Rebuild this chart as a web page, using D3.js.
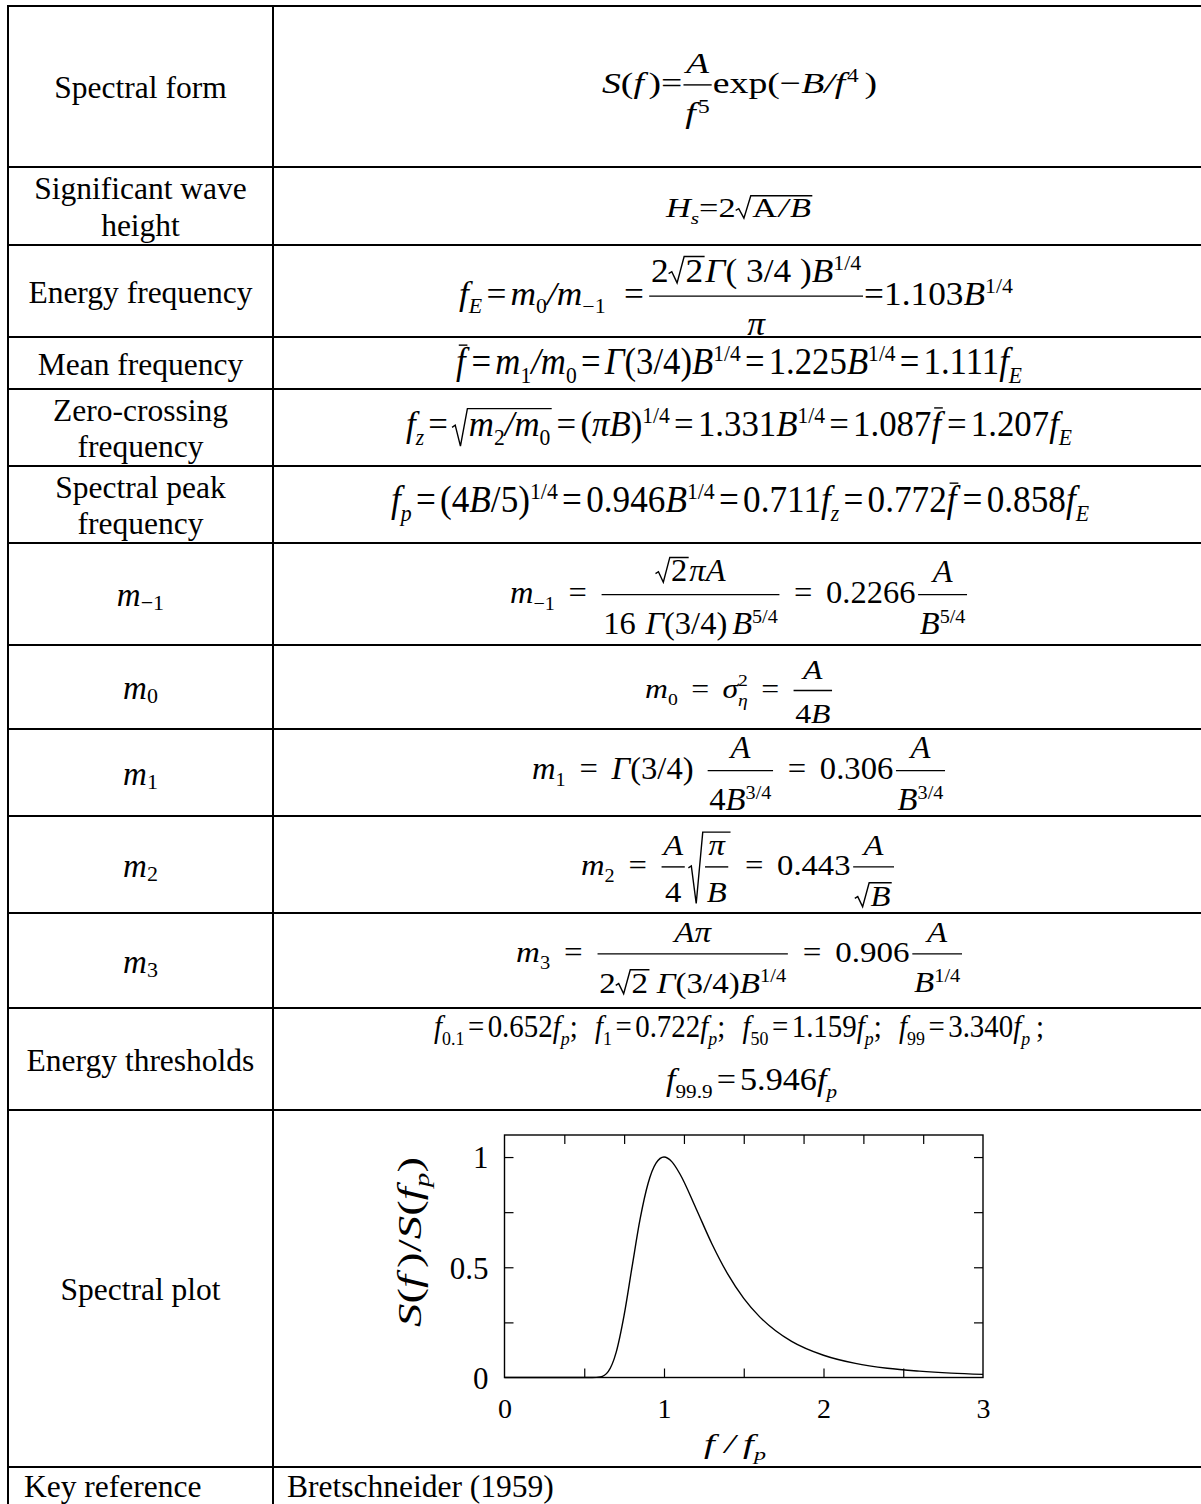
<!DOCTYPE html>
<html>
<head>
<meta charset="utf-8">
<script src="https://cdn.jsdelivr.net/npm/d3@7"></script>
<style>
  body { margin: 0; background: #fff; }
</style>
</head>
<body>
<div id="chart"></div>
<script>
// ---------- data ----------
const rowLabels = [
    ["Spectral form"], ["Significant wave", "height"], ["Energy frequency"], ["Mean frequency"],
    ["Zero-crossing", "frequency"], ["Spectral peak", "frequency"],
    { m: "−1" }, { m: "0" }, { m: "1" }, { m: "2" }, { m: "3" },
    ["Energy thresholds"], ["Spectral plot"]
];
const keyLabel = "Key reference";
const keyValue = "Bretschneider (1959)";

// formula tokens: "text" upright, I() italic, sub/sup, frac, sqrt, bar
const I = s => ({ i: s });
const sub = (...a) => ({ sub: a });
const sup = (...a) => ({ sup: a });
const frac = (n, d) => ({ frac: [n, d] });
const rt = (...a) => ({ sqrt: a });
const bar = (...a) => ({ bar: a });
const sp = e => ({ sp: e });
const ss = (a, b) => ({ ss: [a, b] });
const eq = [sp(.12), "=", sp(.12)];
const eqW = [sp(.42), "=", sp(.42)];

const formulas = [
    [[I("S"), "(", I("f"), sp(.12), ")", "=", frac([I("A")], [I("f"), sp(.06), sup("5")]), "exp(−", I("B/f"), sp(.05), sup("4"), sp(.15), ")"]],
    [[I("H"), sub(I("s")), "=2", rt("A", sp(.05), I("/"), sp(.05), I("B"))]],
    [[I("f"), sub(I("E")), ...eq, I("m"), sub("0"), I("/m"), sub("−1"), sp(.4), ...eq,
      frac(["2", rt("2"), I("Γ"), "( 3/4 )", I("B"), sup("1/4")], [I("π")]), "=", "1.103", I("B"), sup("1/4")]],
    [[bar(I("f")), ...eq, I("m"), sub("1"), I("/m"), sub("0"), ...eq, I("Γ"), "(3/4)", I("B"), sup("1/4"),
      ...eq, "1.225", I("B"), sup("1/4"), ...eq, "1.111", I("f"), sub(I("E"))]],
    [[I("f"), sub(I("z")), ...eq, rt(I("m"), sub("2"), I("/m"), sub("0")), ...eq, "(", I("πB"), ")", sup("1/4"),
      ...eq, "1.331", I("B"), sup("1/4"), ...eq, "1.087", bar(I("f")), ...eq, "1.207", I("f"), sub(I("E"))]],
    [[I("f"), sub(I("p")), ...eq, "(4", I("B"), "/5)", sup("1/4"), ...eq, "0.946", I("B"), sup("1/4"),
      ...eq, "0.711", I("f"), sub(I("z")), ...eq, "0.772", bar(I("f")), ...eq, "0.858", I("f"), sub(I("E"))]],
    [[I("m"), sub("−1"), ...eqW, frac([rt("2"), I("πA")], ["16", sp(.3), I("Γ"), "(3/4)", sp(.15), I("B"), sup("5/4")]),
      ...eqW, "0.2266", sp(.05), frac([I("A")], [I("B"), sup("5/4")])]],
    [[I("m"), sub("0"), ...eqW, I("σ"), ss(["2"], [I("η")]), ...eqW, frac([I("A")], ["4", I("B")])]],
    [[I("m"), sub("1"), ...eqW, I("Γ"), "(3/4)", sp(.4), frac([I("A")], ["4", I("B"), sup("3/4")]),
      ...eqW, "0.306", sp(.05), frac([I("A")], [I("B"), sup("3/4")])]],
    [[I("m"), sub("2"), ...eqW, frac([I("A")], ["4"]), sp(.08), rt(frac([I("π")], [I("B")])), ...eqW, "0.443", sp(.05), frac([I("A")], [rt(I("B"))])]],
    [[I("m"), sub("3"), ...eqW, frac([I("A"), I("π")], ["2", rt("2"), sp(.2), I("Γ"), "(3/4)", I("B"), sup("1/4")]),
      ...eqW, "0.906", sp(.05), frac([I("A")], [I("B"), sup("1/4")])]],
    [[I("f"), sub("0.1"), ...eq, "0.652", I("f"), sub(I("p")), ";", sp(.6), I("f"), sub("1"), ...eq, "0.722", I("f"), sub(I("p")), ";", sp(.6),
      I("f"), sub("50"), ...eq, "1.159", I("f"), sub(I("p")), ";", sp(.6), I("f"), sub("99"), ...eq, "3.340", I("f"), sub(I("p")), sp(.2), ";"],
     [I("f"), sub("99.9"), ...eq, "5.946", I("f"), sub(I("p"))]]
];

// spectral plot
const fRatio = [0, 0.55, 0.6, 0.65, 0.7, 0.75, 0.8, 0.85, 0.9, 0.95, 1.0, 1.05, 1.1, 1.2, 1.3, 1.4, 1.5, 1.6, 1.7, 1.8, 2.0, 2.2, 2.4, 2.6, 2.8, 3.0];
const sRatio = [0, 0, 0.003, 0.027, 0.114, 0.283, 0.503, 0.718, 0.880, 0.972, 1.0, 0.978, 0.923, 0.768, 0.607, 0.469, 0.359, 0.275, 0.212, 0.164, 0.101, 0.064, 0.042, 0.029, 0.020, 0.014];
const xTickLabels = [0, 1, 2, 3];
const yTickLabels = [0, 0.5, 1];
const bottomTicks = [0.5, 1, 1.5, 2, 2.5];
const topTicks = [0.375, 0.75, 1.125, 1.5, 1.875, 2.25, 2.625];
const sideTicks = [0.25, 0.5, 0.75, 1];
const yLabel = [I("S"), "(", I("f"), sp(.15), ")/", I("S"), "(", I("f"), sub(I("p")), ")"];
const xLabel = [I("f"), sp(.25), I("/"), sp(.2), I("f"), sub(I("p"))];

// ---------- layout ----------
const W = 1201, H = 1504;
const FONT = "'Liberation Serif','Times New Roman',serif";
const rowEdges = [6, 167, 245, 337, 389, 466, 543, 645, 729, 816, 913, 1008, 1110, 1467, 1540];
const colX = [8, 273];
// [left, right, baseline, font size] per formula line
const boxes = [
    [[602, 877, 93, 30]],
    [[666, 813, 217, 28]],
    [[459, 1013, 305, 33]],
    [[456, 1022, 374, 37]],
    [[406, 1072, 436, 36]],
    [[391, 1089, 512, 37]],
    [[510, 968, 603, 31]],
    [[645, 833, 698, 28]],
    [[532, 946, 779, 31]],
    [[581, 895, 875, 30]],
    [[516, 963, 962, 30]],
    [[434, 1044, 1037, 32], [666, 837, 1090, 32]]
];

const svg = d3.select("#chart").append("svg")
    .attr("width", W).attr("height", H)
    .style("background", "#fff");

function txt(g, s, size, italic) {
    const t = g.append("text")
        .attr("font-family", FONT)
        .attr("font-size", size)
        .attr("fill", "#000")
        .text(s);
    if (italic) t.attr("font-style", "italic");
    return t.node().getComputedTextLength();
}

function stroke(sel, w) {
    return sel.attr("stroke", "#000").attr("stroke-width", w).attr("fill", "none")
        .attr("vector-effect", "non-scaling-stroke");
}

function lay(g, items, s) {
    let x = 0, asc = 0.68 * s, desc = 0;
    for (const it of items) {
        const pg = g.append("g").attr("transform", `translate(${x},0)`);
        const m = piece(pg, it, s);
        x += m.w;
        asc = Math.max(asc, m.asc);
        desc = Math.max(desc, m.desc);
    }
    return { w: x, asc, desc };
}

function piece(g, it, s) {
    if (typeof it === "string") return { w: txt(g, it, s, false), asc: 0.68 * s, desc: 0 };
    if (it.i !== undefined) return { w: txt(g, it.i, s, true), asc: 0.68 * s, desc: 0 };
    if (it.sp !== undefined) return { w: it.sp * s, asc: 0, desc: 0 };
    if (it.sub) {
        const ig = g.append("g").attr("transform", `translate(0,${0.24 * s})`);
        const m = lay(ig, it.sub, 0.62 * s);
        return { w: m.w, asc: m.asc - 0.24 * s, desc: m.desc + 0.24 * s };
    }
    if (it.sup) {
        const ig = g.append("g").attr("transform", `translate(0,${-0.36 * s})`);
        const m = lay(ig, it.sup, 0.62 * s);
        return { w: m.w, asc: m.asc + 0.36 * s, desc: 0 };
    }
    if (it.ss) {
        const a = g.append("g").attr("transform", `translate(0,${-0.42 * s})`);
        const ma = lay(a, it.ss[0], 0.62 * s);
        const b = g.append("g").attr("transform", `translate(0,${0.3 * s})`);
        const mb = lay(b, it.ss[1], 0.62 * s);
        return { w: Math.max(ma.w, mb.w), asc: ma.asc + 0.42 * s, desc: 0.45 * s };
    }
    if (it.frac) {
        const ng = g.append("g"), dg = g.append("g");
        const mn = lay(ng, it.frac[0], s), md = lay(dg, it.frac[1], s);
        const w = Math.max(mn.w, md.w) + 0.16 * s;
        const axis = -0.27 * s;
        const nb = axis - 0.4 * s - mn.desc;
        const db = axis + 0.5 * s + md.asc;
        ng.attr("transform", `translate(${(w - mn.w) / 2},${nb})`);
        dg.attr("transform", `translate(${(w - md.w) / 2},${db})`);
        stroke(g.append("line"), 1.4)
            .attr("x1", 0.03 * s).attr("x2", w - 0.03 * s)
            .attr("y1", axis).attr("y2", axis);
        return { w, asc: -nb + mn.asc, desc: db + md.desc };
    }
    if (it.sqrt) {
        const r = 0.48 * s;
        const bg = g.append("g").attr("transform", `translate(${r},0)`);
        const m = lay(bg, it.sqrt, s);
        const top = -(m.asc + 0.08 * s), bottom = m.desc + 0.04 * s;
        stroke(g.append("path"), 1.4)
            .attr("d", `M0,${-0.24 * s}L${0.09 * s},${-0.3 * s}L${0.24 * s},${bottom}L${0.44 * s},${top}H${r + m.w + 0.04 * s}`);
        return { w: r + m.w + 0.06 * s, asc: -top + 0.03 * s, desc: bottom };
    }
    if (it.bar) {
        const m = lay(g, it.bar, s);
        const yb = -(m.asc + 0.1 * s);
        stroke(g.append("line"), 1.4)
            .attr("x1", 0.08 * s).attr("x2", m.w + 0.05 * s)
            .attr("y1", yb).attr("y2", yb);
        return { w: m.w + 0.05 * s, asc: m.asc + 0.14 * s, desc: m.desc };
    }
    return { w: 0, asc: 0, desc: 0 };
}

// fit a laid-out formula between left and right ink edges
function placeFormula(tokens, [left, right, base, fs]) {
    const g = svg.append("g");
    const inner = g.append("g");
    const m = lay(inner, tokens, fs);
    g.attr("transform", `translate(${left},${base}) scale(${(right - left) / m.w},1)`);
}

// ---------- table grid ----------
const grid = svg.append("g");
rowEdges.slice(0, -1).forEach(y => {
    stroke(grid.append("line"), 2).attr("x1", colX[0] - 1).attr("x2", W).attr("y1", y).attr("y2", y);
});
colX.forEach(x => {
    stroke(grid.append("line"), 2).attr("x1", x).attr("x2", x).attr("y1", rowEdges[0] - 1).attr("y2", H);
});

// ---------- row labels ----------
const labelX = (colX[0] + colX[1]) / 2;
rowLabels.forEach((lab, i) => {
    const mid = (rowEdges[i] + rowEdges[i + 1]) / 2;
    if (Array.isArray(lab)) {
        lab.forEach((line, k) => {
            svg.append("text")
                .attr("x", labelX)
                .attr("y", mid + 11.5 + (k - (lab.length - 1) / 2) * 36.5)
                .attr("text-anchor", "middle")
                .attr("font-family", FONT)
                .attr("font-size", 31.5)
                .text(line);
        });
    } else {
        const t = svg.append("text")
            .attr("x", labelX)
            .attr("y", mid + 12)
            .attr("text-anchor", "middle")
            .attr("font-family", FONT)
            .attr("font-size", 33);
        t.append("tspan").attr("font-style", "italic").text("m");
        t.append("tspan").attr("font-size", 22).attr("dy", 4).text(lab.m);
    }
});

svg.append("text")
    .attr("x", 24).attr("y", 1497)
    .attr("font-family", FONT).attr("font-size", 31.5)
    .text(keyLabel);
svg.append("text")
    .attr("x", 287).attr("y", 1497)
    .attr("font-family", FONT).attr("font-size", 31.5)
    .text(keyValue);

// ---------- formulas ----------
formulas.forEach((lines, i) => {
    lines.forEach((tokens, k) => placeFormula(tokens, boxes[i][k]));
});

// ---------- spectral plot ----------
const x = d3.scaleLinear().domain([0, 3]).range([504.5, 983]);
const y = d3.scaleLinear().domain([0, 1.1]).range([1377.5, 1135]);
const plot = svg.append("g");
const tickLen = 9;

plot.append("g")
    .attr("transform", `translate(0,${y(0)})`)
    .call(d3.axisBottom(x).tickValues(bottomTicks).tickSize(-tickLen).tickFormat(""));
plot.append("g")
    .attr("transform", `translate(0,${y(1.1)})`)
    .call(d3.axisTop(x).tickValues(topTicks).tickSize(-tickLen).tickFormat(""));
plot.append("g")
    .attr("transform", `translate(${x(0)},0)`)
    .call(d3.axisLeft(y).tickValues(sideTicks).tickSize(-tickLen).tickFormat(""));
plot.append("g")
    .attr("transform", `translate(${x(3)},0)`)
    .call(d3.axisRight(y).tickValues(sideTicks).tickSize(-tickLen).tickFormat(""));
plot.selectAll(".domain").remove();
plot.selectAll(".tick line").attr("stroke", "#000").attr("stroke-width", 1.2);

plot.append("rect")
    .attr("x", x(0)).attr("y", y(1.1))
    .attr("width", x(3) - x(0)).attr("height", y(0) - y(1.1))
    .attr("fill", "none").attr("stroke", "#000").attr("stroke-width", 1.4);

// tick labels
const xl = plot.append("g")
    .attr("transform", `translate(0,${y(0)})`)
    .call(d3.axisBottom(x).tickValues(xTickLabels).tickSize(0).tickPadding(21).tickFormat(d3.format("d")));
const yl = plot.append("g")
    .attr("transform", `translate(${x(0)},0)`)
    .call(d3.axisLeft(y).tickValues(yTickLabels).tickSize(0).tickPadding(16).tickFormat(d => String(d)));
[xl, yl].forEach(a => {
    a.select(".domain").remove();
    a.selectAll("text").attr("font-family", FONT).attr("fill", "#000");
});
xl.selectAll("text").attr("font-size", 28);
yl.selectAll("text").attr("font-size", 31).attr("dy", "0.35em");

// curve
const line = d3.line()
    .x((d, i) => x(fRatio[i]))
    .y(d => y(d))
    .curve(d3.curveMonotoneX);
plot.append("path")
    .datum(sRatio)
    .attr("d", line)
    .attr("fill", "none")
    .attr("stroke", "#000")
    .attr("stroke-width", 1.4);

// axis titles
const yg = svg.append("g");
const ym = lay(yg.append("g"), yLabel, 34);
yg.attr("transform", `translate(421,1327) rotate(-90) scale(${170 / ym.w},1)`);
placeFormula(xLabel, [704, 766, 1453, 28]);
</script>
</body>
</html>
